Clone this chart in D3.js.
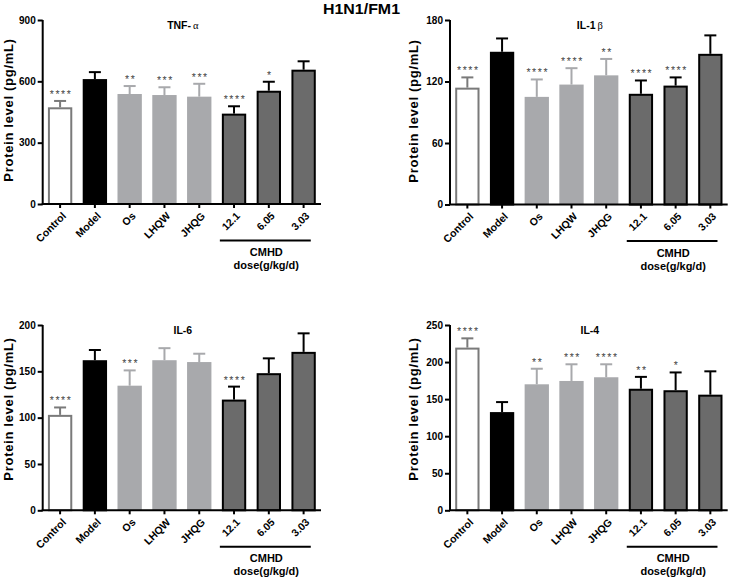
<!DOCTYPE html>
<html>
<head>
<meta charset="utf-8">
<script src="https://cdn.jsdelivr.net/npm/d3@7"></script>
<style>
  body { margin: 0; background: #fff; }
  svg { display: block; font-family: "Liberation Sans", Arial, sans-serif; }
</style>
</head>
<body>
<svg id="chart" width="731" height="582"></svg>
<script>
// ---------- data ----------
const categories = ["Control", "Model", "Os", "LHQW", "JHQG", "12.1", "6.05", "3.03"];
const groupLabel = ["CMHD", "dose(g/kg/d)"];

const tnfMean = [473, 611, 538, 533, 525, 442, 554, 657];
const tnfSD   = [31, 34, 39, 38, 63, 36, 44, 41];
const tnfStars = ["****", "", "**", "***", "***", "****", "*", ""];
const tnfTicks = [0, 300, 600, 900];

const il1bMean = [114, 149, 105, 117, 126, 108, 116, 147];
const il1bSD   = [10, 13, 17, 16, 16, 13, 8, 18];
const il1bStars = ["****", "", "****", "****", "**", "****", "****", ""];
const il1bTicks = [0, 60, 120, 180];

const il6Mean = [103, 162, 134.5, 162, 160, 119.5, 148, 171];
const il6SD   = [8, 11, 16.5, 13, 9, 14, 16, 20];
const il6Stars = ["****", "", "***", "", "", "****", "", ""];
const il6Ticks = [0, 50, 100, 150, 200];

const il4Mean = [219.5, 132.5, 170, 174.5, 179.5, 164, 162, 156];
const il4SD   = [12.5, 13.5, 21, 22.5, 17.5, 16, 24, 31.5];
const il4Stars = ["****", "", "**", "***", "****", "**", "*", ""];
const il4Ticks = [0, 50, 100, 150, 200, 250];

// ---------- styles ----------
const fills   = ["#ffffff", "#000000", "#a8a9ac", "#a8a9ac", "#a8a9ac", "#6b6b6b", "#6b6b6b", "#6b6b6b"];
const strokes = ["#7a7a7a", "#000000", "none", "none", "none", "#000000", "#000000", "#000000"];
const errCol  = ["#7a7a7a", "#000000", "#a8a9ac", "#a8a9ac", "#a8a9ac", "#000000", "#000000", "#000000"];

const svg = d3.select("#chart");
svg.append("rect").attr("width", 731).attr("height", 582).attr("fill", "#fff");

svg.append("text")
  .attr("x", 361.5).attr("y", 14)
  .attr("text-anchor", "middle")
  .attr("font-weight", "bold").attr("font-size", 15)
  .attr("textLength", 77).attr("lengthAdjust", "spacingAndGlyphs")
  .text("H1N1/FM1");

const panels = [
  { name: "TNF-", greek: "α", mean: tnfMean, sd: tnfSD, stars: tnfStars, ticks: tnfTicks,
    x0: 42.7, x1: 321, yTop: 20, yBot: 204, labX: 13, labY: 110 },
  { name: "IL-1", greek: "β", mean: il1bMean, sd: il1bSD, stars: il1bStars, ticks: il1bTicks,
    x0: 450, x1: 727.7, yTop: 20, yBot: 204.5, labX: 418, labY: 111 },
  { name: "IL-6", greek: "", mean: il6Mean, sd: il6SD, stars: il6Stars, ticks: il6Ticks,
    x0: 42.7, x1: 321, yTop: 325, yBot: 510.3, labX: 13, labY: 409 },
  { name: "IL-4", greek: "", mean: il4Mean, sd: il4SD, stars: il4Stars, ticks: il4Ticks,
    x0: 450, x1: 727.7, yTop: 325, yBot: 510.3, labX: 418, labY: 409 }
];

panels.forEach(p => {
  const g = svg.append("g");
  const x = d3.scaleBand().domain(categories).range([p.x0, p.x1]).paddingInner(0.3).paddingOuter(0.15);
  const y = d3.scaleLinear().domain([0, p.ticks[p.ticks.length - 1]]).range([p.yBot, p.yTop]);
  const bw = x.bandwidth();

  categories.forEach((c, i) => {
    const sw = strokes[i] === "none" ? 0 : 2;
    g.append("rect")
      .attr("x", x(c) + sw / 2)
      .attr("y", y(p.mean[i]) + sw / 2)
      .attr("width", bw - sw)
      .attr("height", y(0) - y(p.mean[i]) - sw / 2)
      .attr("fill", fills[i])
      .attr("stroke", strokes[i])
      .attr("stroke-width", sw);
    const cx = x(c) + bw / 2;
    const top = y(p.mean[i] + p.sd[i]);
    g.append("line")
      .attr("x1", cx).attr("x2", cx)
      .attr("y1", y(p.mean[i])).attr("y2", top)
      .attr("stroke", errCol[i]).attr("stroke-width", 2);
    g.append("line")
      .attr("x1", cx - 6).attr("x2", cx + 6)
      .attr("y1", top).attr("y2", top)
      .attr("stroke", errCol[i]).attr("stroke-width", 2);
    if (p.stars[i]) {
      g.append("text")
        .attr("x", cx + 1).attr("y", top - 3)
        .attr("text-anchor", "middle")
        .attr("font-size", 10.5)
        .attr("letter-spacing", 1.6)
        .attr("fill", "#444")
        .text(p.stars[i]);
    }
  });

  const ya = g.append("g")
    .attr("transform", `translate(${p.x0},0)`)
    .call(d3.axisLeft(y).tickValues(p.ticks).tickSize(5).tickPadding(2).tickFormat(d3.format("d")));
  ya.select(".domain").attr("stroke-width", 2).attr("d", `M0,${p.yTop}V${p.yBot}`);
  ya.selectAll(".tick line").attr("stroke-width", 2);
  ya.selectAll(".tick text").attr("font-size", 10).attr("font-weight", "bold")
    .attr("font-family", "Liberation Sans, Arial, sans-serif").attr("fill", "#000");

  const xa = g.append("g")
    .attr("transform", `translate(0,${p.yBot})`)
    .call(d3.axisBottom(x).tickSize(4).tickSizeOuter(0));
  xa.select(".domain").attr("stroke-width", 2).attr("d", `M${p.x0 - 1},0H${p.x1}`);
  xa.selectAll(".tick line").attr("stroke-width", 2);
  xa.selectAll(".tick text")
    .attr("font-size", 10.5).attr("font-weight", "bold")
    .attr("font-family", "Liberation Sans, Arial, sans-serif").attr("fill", "#000")
    .attr("text-anchor", "end")
    .attr("y", 0).attr("dy", "0.35em")
    .attr("transform", "translate(4,10) rotate(-45)");

  const bx0 = x("12.1") - 2, bx1 = x("3.03") + bw - 5;
  g.append("line")
    .attr("x1", bx0).attr("x2", bx1)
    .attr("y1", p.yBot + 36.5).attr("y2", p.yBot + 36.5)
    .attr("stroke", "#000").attr("stroke-width", 2);
  const bc = (bx0 + bx1) / 2 + 1;
  g.append("text").attr("x", bc).attr("y", p.yBot + 52)
    .attr("text-anchor", "middle").attr("font-size", 11).attr("font-weight", "bold")
    .text(groupLabel[0]);
  g.append("text").attr("x", bc).attr("y", p.yBot + 65)
    .attr("text-anchor", "middle").attr("font-size", 11).attr("font-weight", "bold")
    .text(groupLabel[1]);

  g.append("text")
    .attr("transform", `translate(${p.labX},${p.labY}) rotate(-90)`)
    .attr("text-anchor", "middle")
    .attr("font-size", 13).attr("font-weight", "bold")
    .attr("letter-spacing", 0.7)
    .text("Protein level (pg/mL)");

  const t = g.append("text")
    .attr("x", (p.x0 + p.x1) / 2 + 1).attr("y", p.yTop + 8.5)
    .attr("text-anchor", "middle")
    .attr("font-size", 10.5).attr("font-weight", "bold");
  t.append("tspan").text(p.name);
  if (p.greek) {
    t.append("tspan").attr("font-family", "Liberation Serif, serif")
      .attr("font-weight", "normal").attr("dx", 2).text(p.greek);
  }
});
</script>
</body>
</html>
